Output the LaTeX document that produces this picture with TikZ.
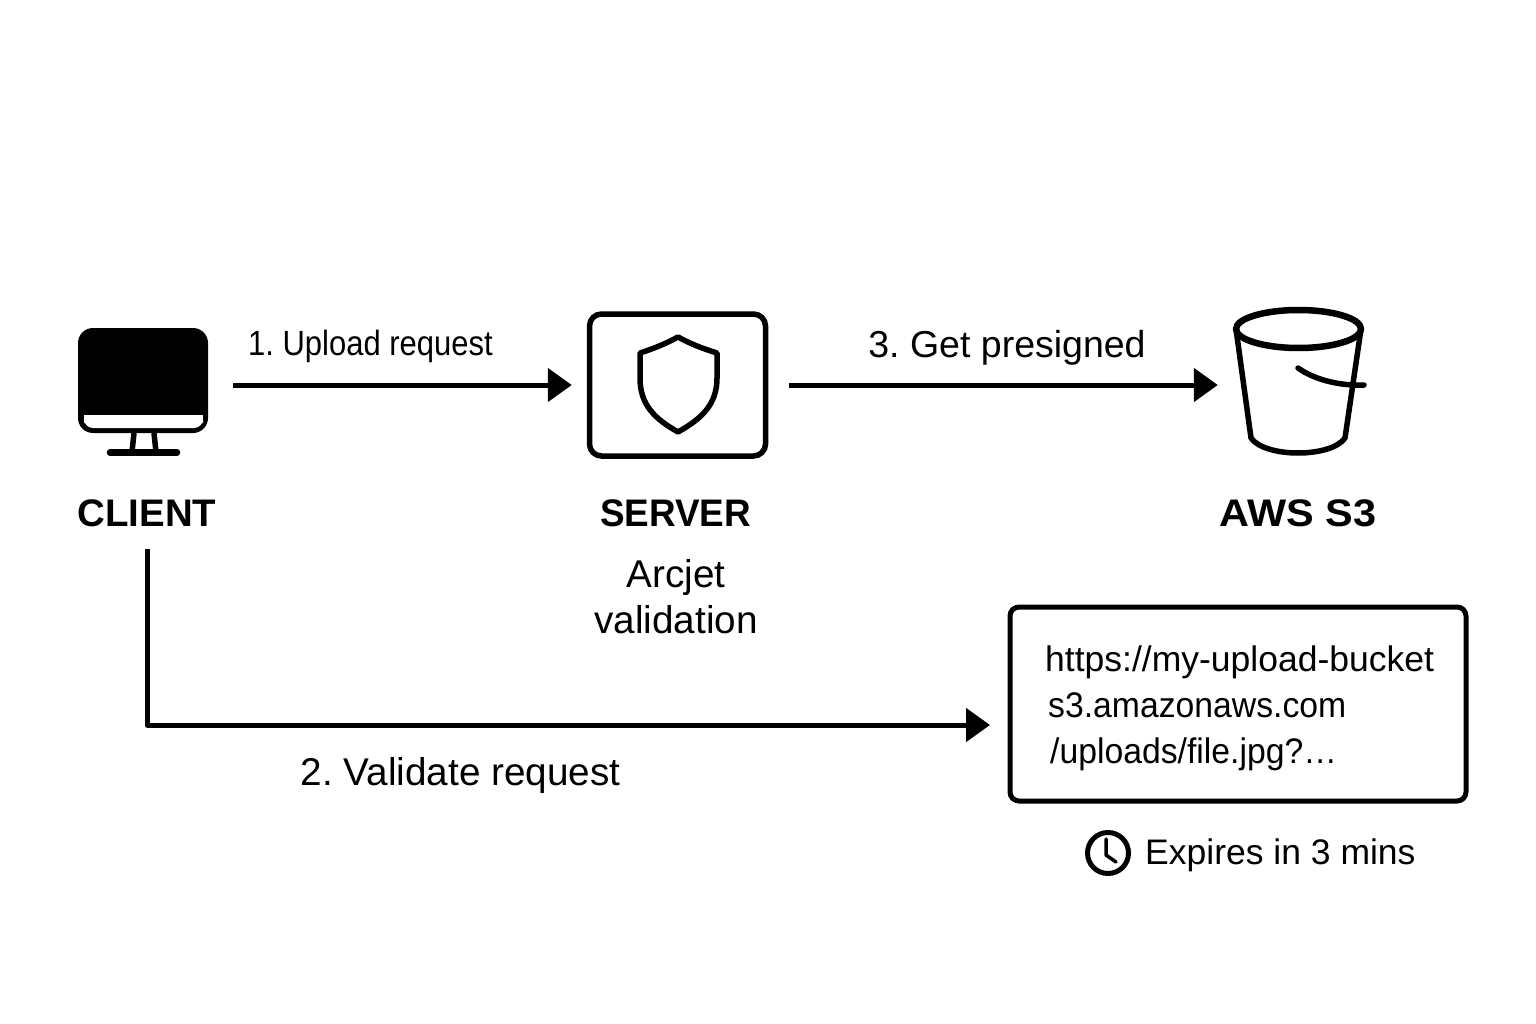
\documentclass[tikz,border=0pt]{standalone}
\usepackage{fontspec}
\setmainfont{Liberation Sans}
\usetikzlibrary{arrows.meta}

\begin{document}
\frenchspacing
\begin{tikzpicture}[x=1pt,y=-1pt,
    flow/.style={line width=5pt, -{Triangle[length=24pt,width=33pt]}},
    icon/.style={line width=5.5pt, line join=round, line cap=round},
    title/.style={inner sep=0pt, font=\fontsize{38.4}{44}\bfseries},
    caption/.style={inner sep=0pt, font=\fontsize{#1}{46}\selectfont, align=center}]
          \useasboundingbox (0,0) rectangle (1536,1024);

          % Define vertices
          \node[minimum width=130pt, minimum height=128pt, inner sep=0pt] (client) at (143,392) {};
          \node[rectangle, draw, line width=5.5pt, rounded corners=12pt, minimum width=176pt, minimum height=142pt] (server) at (677.5,385) {};
          \node[minimum width=131pt, minimum height=146pt, inner sep=0pt] (bucket) at (1298.5,380) {};
          \node[rectangle, draw, line width=5pt, rounded corners=9pt, minimum width=456pt, minimum height=194pt] (urlbox) at (1238,704) {};
          \node[circle, draw, line width=5pt, minimum size=41pt, inner sep=0pt] (clock) at (1108,853) {};

          % Define labels
          \node[title] (clientname) at (147,513) {CLIENT};
          \node[title] (servername) at (675.5,513) {\scalebox{.96}[1]{SERVER}};
          \node[title] (bucketname) at (1298,513) {\scalebox{1.08}[1]{AWS S3}};
          \node[caption=38.7] (arcjet) at (676,597) {Arcjet\\validation};
          \node[caption=35, anchor=west] (step1) at (248,346) {\scalebox{.885}[1]{1. Upload request}};
          \node[caption=37.5] (step3) at (1007,348) {3. Get presigned};
          \node[caption=38.7] (step2) at (460.5,775) {2. Validate request};
          \node[caption=35.5, anchor=west, align=left] (urltext) at (1045,708) {https://my-upload-bucket\\\hspace*{3pt}\scalebox{.95}[1]{s3.amazonaws.com}\\\hspace*{5pt}\scalebox{.95}[1]{/uploads/file.jpg?…}};
          \node[caption=35.5, anchor=west] (expires) at (clock.east) [xshift=14pt, yshift=-2pt] {Expires in 3 mins};

          % Draw edges
          \coordinate (urlin) at (990,725);
          \draw[flow, shorten <=25pt, shorten >=15pt] (client.east |- server.west) -- (server.west);
          \draw[flow, shorten <=21pt, shorten >=15pt] (server.east) -- (bucket.west |- server.east);
          \draw[flow, line join=round] (clientname.south) ++(0,22) -- (clientname.south |- urlin) -- (urlin);

          % Draw client monitor
          \fill[black, rounded corners=15pt] (78,328) rectangle (208,433);
          \fill[white, rounded corners=9pt] (84,415) -- (203,415) -- (203,428) -- (84,428) -- cycle;
          \fill[white] (84,415) rectangle (203,421);
          \draw[icon, line cap=butt] (134,433) -- (132,452);
          \draw[icon, line cap=butt] (154,433) -- (156,452);
          \draw[icon, line width=6.5pt] (110,452.5) -- (177,452.5);

          % Draw server shield
          \draw[icon] (678,337) .. controls (665,344) and (655,348) .. (640,353)
            -- (640,378) .. controls (640,405) and (655,419) .. (678,432)
            .. controls (701,419) and (717,405) .. (717,378)
            -- (717,353) .. controls (701,348) and (691,344) .. (678,337) -- cycle;

          % Draw bucket
          \draw[icon, line width=6.5pt] (1298.5,329) ellipse [x radius=62.5pt, y radius=19pt];
          \draw[icon] (1236,329) -- (1251,438) .. controls (1265,458) and (1331,458) .. (1345,438) -- (1361,329);
          \draw[icon] (1298,368) .. controls (1315,380) and (1340,386) .. (1364,385);

          % Draw clock hands
          \draw[line width=3.5pt, line join=round, line cap=round] (1106,839) -- (1106,855) -- (1116,862);
        \end{tikzpicture}
\end{document}
